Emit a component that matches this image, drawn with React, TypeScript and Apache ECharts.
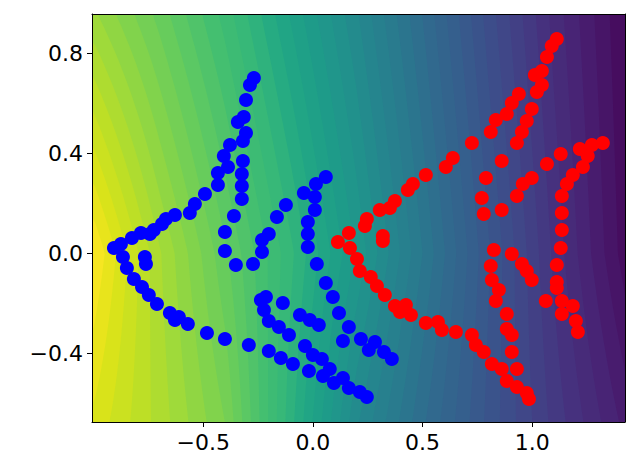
import React, { useEffect, useRef } from "react";
import * as echarts from "echarts";

// ---- data ----
const bluePoints: number[][] = [
  [-0.269, 0.7], [-0.287, 0.672], [-0.305, 0.612], [-0.315, 0.544], [-0.342, 0.524],
  [-0.305, 0.48], [-0.319, 0.448], [-0.378, 0.432], [-0.406, 0.388], [-0.387, 0.344],
  [-0.433, 0.32], [-0.433, 0.272], [-0.492, 0.236], [-0.538, 0.196], [-0.561, 0.16],
  [-0.629, 0.152], [-0.67, 0.136], [-0.688, 0.116], [-0.725, 0.092], [-0.743, 0.076],
  [-0.784, 0.08], [-0.825, 0.06], [-0.875, 0.036], [-0.907, 0.02], [-0.866, -0.016],
  [-0.766, -0.016], [-0.761, -0.044], [-0.848, -0.06], [-0.816, -0.104], [-0.779, -0.136],
  [-0.748, -0.168], [-0.711, -0.204], [-0.652, -0.24], [-0.611, -0.256], [-0.629, -0.268],
  [-0.57, -0.284], [-0.483, -0.32], [-0.401, -0.344], [-0.401, 0.084], [-0.401, 0.008],
  [-0.319, 0.368], [-0.324, 0.316], [-0.324, 0.268], [-0.324, 0.216], [-0.36, 0.148],
  [-0.351, -0.048], [-0.273, -0.044], [-0.232, 0.004], [-0.232, 0.052], [-0.201, 0.076],
  [-0.164, 0.144], [-0.123, 0.192], [-0.041, 0.24], [0.009, 0.224], [0.014, 0.276],
  [0.059, 0.304], [0.009, 0.172], [-0.023, 0.124], [-0.023, 0.076], [-0.023, 0.024],
  [0.018, -0.044], [0.059, -0.12], [-0.237, -0.188], [-0.214, -0.176], [-0.223, -0.228],
  [-0.137, -0.2], [-0.201, -0.272], [-0.155, -0.296], [-0.109, -0.328], [-0.059, -0.248],
  [-0.014, -0.268], [0.027, -0.288], [0.091, -0.176], [0.119, -0.24], [0.164, -0.296],
  [0.137, -0.352], [0.219, -0.344], [-0.292, -0.368], [-0.201, -0.392], [-0.146, -0.42],
  [-0.091, -0.444], [-0.036, -0.372], [0.0, -0.408], [0.041, -0.424], [0.077, -0.464],
  [-0.018, -0.472], [0.046, -0.492], [0.096, -0.52], [0.137, -0.5], [0.164, -0.54],
  [0.214, -0.556], [0.246, -0.576], [0.283, -0.356], [0.255, -0.388], [0.324, -0.396],
  [0.36, -0.424],
];

const redPoints: number[][] = [
  [1.112, 0.856], [1.089, 0.828], [1.067, 0.784], [1.044, 0.728], [1.012, 0.712],
  [1.044, 0.672], [1.021, 0.644], [0.939, 0.636], [0.907, 0.6], [0.884, 0.556],
  [0.834, 0.532], [0.998, 0.576], [0.975, 0.528], [0.953, 0.484], [0.93, 0.44],
  [0.811, 0.484], [1.13, 0.396], [1.217, 0.416], [1.272, 0.432], [1.322, 0.44],
  [1.253, 0.388], [0.725, 0.44], [0.638, 0.38], [0.606, 0.344], [0.515, 0.312],
  [0.456, 0.276], [0.433, 0.252], [0.374, 0.208], [0.351, 0.18], [0.305, 0.172],
  [0.246, 0.136], [0.237, 0.108], [0.319, 0.068], [0.319, 0.048], [0.789, 0.3],
  [0.77, 0.22], [0.779, 0.156], [0.825, 0.012], [0.811, -0.052], [0.816, -0.108],
  [0.201, -0.024], [0.214, -0.072], [0.264, -0.096], [0.292, -0.132], [0.164, 0.08],
  [0.114, 0.044], [0.169, 0.02], [0.861, 0.368], [1.067, 0.356], [1.231, 0.344],
  [1.185, 0.312], [1.158, 0.276], [1.135, 0.228], [0.998, 0.3], [0.957, 0.276],
  [0.93, 0.228], [0.861, 0.172], [1.135, 0.16], [1.135, 0.092], [1.13, 0.02],
  [1.112, -0.048], [1.112, -0.116], [0.907, -0.004], [0.953, -0.044], [0.975, -0.072],
  [0.998, -0.108], [0.848, -0.148], [0.834, -0.192], [0.884, -0.244], [0.884, -0.304],
  [0.907, -0.328], [0.907, -0.396], [0.816, -0.444], [0.861, -0.464], [0.93, -0.464],
  [0.884, -0.512], [0.93, -0.536], [0.975, -0.56], [0.985, -0.584], [1.062, -0.192],
  [1.112, -0.14], [1.135, -0.192], [1.185, -0.212], [1.135, -0.244], [1.199, -0.272],
  [1.208, -0.316], [0.328, -0.168], [0.374, -0.212], [0.424, -0.208], [0.397, -0.236],
  [0.447, -0.248], [0.515, -0.28], [0.57, -0.276], [0.588, -0.308], [0.652, -0.316],
  [0.725, -0.328], [0.743, -0.368], [0.779, -0.396],
];

// background field (colormap position 0..1) sampled on a coarse grid
const fieldX = [-1.0, -0.7, -0.4, -0.1, 0.2, 0.5, 0.8, 1.1, 1.43];
const fieldY = [0.95, 0.0, -0.68];
const fieldTop = [0.85, 0.77, 0.68, 0.575, 0.47, 0.355, 0.235, 0.125, 0.02];
const fieldMid = [1.0, 0.87, 0.76, 0.65, 0.53, 0.4, 0.27, 0.15, 0.03];
const fieldBottom = [0.95, 0.88, 0.8, 0.63, 0.47, 0.36, 0.26, 0.17, 0.08];
const fieldRows = [fieldTop, fieldMid, fieldBottom];
const bandCount = 45;

const xTicks = [-0.5, 0.0, 0.5, 1.0];
const yTicks = [-0.4, 0.0, 0.4, 0.8];
const xRange = [-1.007, 1.423];
const yRange = [-0.676, 0.956];

const viridis = [
  "#440154", "#471365", "#482475", "#46337f", "#414487", "#3b528b", "#355f8d",
  "#306a8e", "#2a788e", "#25848e", "#21918c", "#1e9c89", "#22a884", "#35b779",
  "#44bf70", "#5ec962", "#7ad151", "#9bd93c", "#bddf26", "#dde318", "#fde725",
];

function hexToRgb(h: string) {
  return [parseInt(h.slice(1, 3), 16), parseInt(h.slice(3, 5), 16), parseInt(h.slice(5, 7), 16)];
}
function cmap(t: number) {
  const v = Math.max(0, Math.min(1, t)) * (viridis.length - 1);
  const i = Math.min(viridis.length - 2, Math.floor(v));
  const f = v - i;
  const a = hexToRgb(viridis[i]);
  const b = hexToRgb(viridis[i + 1]);
  const c = a.map((av, k) => Math.round(av + (b[k] - av) * f));
  return `rgb(${c[0]},${c[1]},${c[2]})`;
}

function interp1(xs: number[], vs: number[], x: number) {
  if (x <= xs[0]) return vs[0];
  if (x >= xs[xs.length - 1]) return vs[vs.length - 1];
  for (let i = 0; i < xs.length - 1; i++) {
    if (x <= xs[i + 1]) {
      const f = (x - xs[i]) / (xs[i + 1] - xs[i]);
      return vs[i] + (vs[i + 1] - vs[i]) * f;
    }
  }
  return vs[vs.length - 1];
}
function fieldAt(x: number, y: number) {
  const rowVals = fieldRows.map((r) => interp1(fieldX, r, x));
  const ys = fieldY.slice().reverse();
  const vs = rowVals.slice().reverse();
  return interp1(ys, vs, y);
}

export default function App() {
  const ref = useRef<HTMLDivElement>(null);
  useEffect(() => {
    document.body.style.margin = "0";
    if (!ref.current) return;
    const chart = echarts.init(ref.current, null, { renderer: "svg" });

    const ny = 90;
    const nx = 300;
    const ySamples: number[] = [];
    for (let i = 0; i <= ny; i++) ySamples.push(yRange[1] - ((yRange[1] - yRange[0]) * i) / ny);

    const boundary = (level: number, y: number) => {
      let px = xRange[0];
      let pt = fieldAt(px, y);
      if (pt < level) return xRange[0];
      for (let j = 1; j <= nx; j++) {
        const x = xRange[0] + ((xRange[1] - xRange[0]) * j) / nx;
        const t = fieldAt(x, y);
        if (t < level) {
          const f = (pt - level) / (pt - t);
          return px + (x - px) * f;
        }
        px = x;
        pt = t;
      }
      return xRange[1];
    };

    const renderItem = (params: any, api: any) => {
      const children: any[] = [];
      for (let k = 0; k < bandCount; k++) {
        const level = k / bandCount;
        const pts: number[][] = [];
        for (const y of ySamples) pts.push(api.coord([k === 0 ? xRange[1] : boundary(level, y), y]));
        pts.push(api.coord([xRange[0], yRange[0]]));
        pts.push(api.coord([xRange[0], yRange[1]]));
        children.push({
          type: "polygon",
          shape: { points: pts },
          style: { fill: cmap((k + 0.5) / bandCount), stroke: null },
          silent: true,
        });
      }
      return { type: "group", children };
    };

    const fmt = (v: number) => (v < 0 ? "\u2212" : "") + Math.abs(v).toFixed(1);
    const labelStyle = { fontSize: 22, color: "#000", fontFamily: "DejaVu Sans" };

    chart.setOption({
      animation: false,
      grid: { left: 92, right: 15, top: 14, bottom: 54, containLabel: false },
      xAxis: [
        {
          type: "value", min: xRange[0], max: xRange[1], position: "bottom", z: 10,
          splitLine: { show: false },
          axisLine: { show: true, onZero: false, lineStyle: { color: "#000", width: 1 } },
          axisTick: { show: true, inside: false, length: 5, customValues: xTicks, lineStyle: { color: "#000" } },
          axisLabel: { ...labelStyle, margin: 9, customValues: xTicks, formatter: fmt },
        },
        {
          type: "value", min: xRange[0], max: xRange[1], position: "top", z: 10,
          splitLine: { show: false },
          axisLine: { show: true, onZero: false, lineStyle: { color: "#000", width: 1 } },
          axisTick: { show: false }, axisLabel: { show: false },
        },
      ],
      yAxis: [
        {
          type: "value", min: yRange[0], max: yRange[1], position: "left", z: 10,
          splitLine: { show: false },
          axisLine: { show: true, onZero: false, lineStyle: { color: "#000", width: 1 } },
          axisTick: { show: true, inside: false, length: 5, customValues: yTicks, lineStyle: { color: "#000" } },
          axisLabel: { ...labelStyle, margin: 9, customValues: yTicks, formatter: fmt },
        },
        {
          type: "value", min: yRange[0], max: yRange[1], position: "right", z: 10,
          splitLine: { show: false },
          axisLine: { show: true, onZero: false, lineStyle: { color: "#000", width: 1 } },
          axisTick: { show: false }, axisLabel: { show: false },
        },
      ],
      series: [
        {
          type: "custom", renderItem, data: [[0, 0]], clip: true, silent: true, z: 1,
          xAxisIndex: 0, yAxisIndex: 0,
        },
        {
          type: "scatter", data: bluePoints, symbolSize: 14, z: 3,
          itemStyle: { color: "#0000ff", opacity: 1 }, xAxisIndex: 0, yAxisIndex: 0,
        },
        {
          type: "scatter", data: redPoints, symbolSize: 14, z: 3,
          itemStyle: { color: "#ff0000", opacity: 1 }, xAxisIndex: 0, yAxisIndex: 0,
        },
      ],
    });
    return () => chart.dispose();
  }, []);
  return <div ref={ref} style={{ width: 640, height: 476 }} />;
}
